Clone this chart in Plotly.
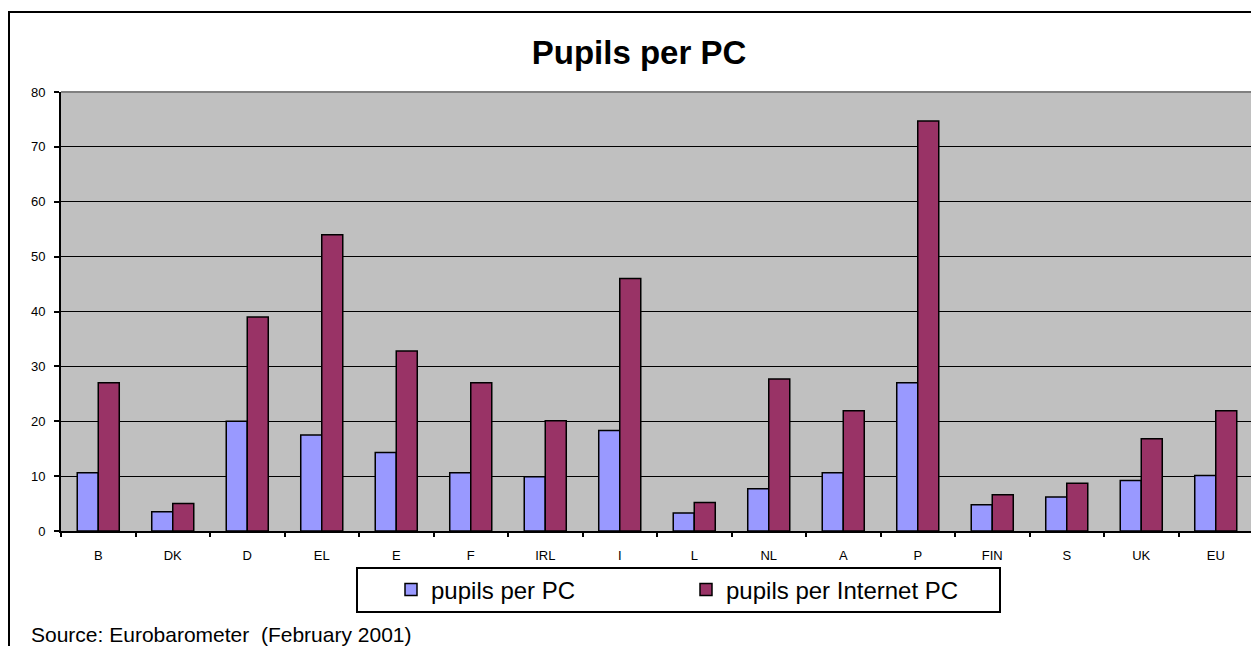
import plotly.graph_objects as go

categories = ["B", "DK", "D", "EL", "E", "F", "IRL", "I", "L", "NL", "A", "P", "FIN", "S", "UK", "EU"]
pupils_per_pc = [10.6, 3.5, 20.0, 17.5, 14.3, 10.6, 9.9, 18.3, 3.3, 7.7, 10.6, 27.0, 4.8, 6.2, 9.2, 10.1]
pupils_per_internet_pc = [27.0, 5.0, 39.0, 54.0, 32.8, 27.0, 20.1, 46.0, 5.2, 27.7, 21.9, 74.7, 6.6, 8.7, 16.8, 21.9]
y_ticks = [0, 10, 20, 30, 40, 50, 60, 70, 80]

# the page adds an 8px body margin; lay out in screen pixels and shift
OFF = 8
SW, SH = 1259, 646
W, H = SW - OFF, SH - OFF
PL, PT, PR, PB = 61, 92, 1253, 531          # plot area in screen px
L, T = PL - OFF, PT - OFF
R, B = W - (PR - OFF), H - (PB - OFF)
pw, ph = PR - PL, PB - PT


def px_x(x):
    return (x - PL) / pw


def px_y(y):
    return (PB - y) / ph


font = "Liberation Sans, Arial, sans-serif"

fig = go.Figure()
fig.add_trace(go.Bar(
    x=categories, y=pupils_per_pc, name="pupils per PC",
    marker=dict(color="#9999FF", line=dict(color="black", width=1.5)),
))
fig.add_trace(go.Bar(
    x=categories, y=pupils_per_internet_pc, name="pupils per Internet PC",
    marker=dict(color="#993366", line=dict(color="black", width=1.5)),
))

fig.update_layout(
    width=W, height=H,
    margin=dict(l=L, r=R, t=T, b=B),
    paper_bgcolor="white",
    plot_bgcolor="#C0C0C0",
    barmode="group",
    bargap=0.436,
    bargroupgap=0,
    font=dict(family=font, color="black", size=13),
    title=dict(
        text="<b>Pupils per PC</b>",
        x=(639 - OFF) / W, xref="container", xanchor="center",
        y=1 - (52 - OFF) / H, yref="container", yanchor="middle",
        font=dict(size=33, family=font, color="black"),
    ),
    showlegend=True,
    legend=dict(
        orientation="h",
        x=px_x(391), xanchor="left",
        y=px_y(590), yanchor="middle",
        borderwidth=0,
        bgcolor="rgba(0,0,0,0)",
        font=dict(size=24, family=font, color="black"),
        entrywidth=250, entrywidthmode="pixels",
    ),
    xaxis=dict(
        type="category",
        showgrid=False,
        showline=True, linecolor="black", linewidth=2,
        ticks="outside", tickson="boundaries", ticklen=4, tickcolor="black", tickwidth=2,
        ticklabelstandoff=11,
        tickfont=dict(size=13),
        fixedrange=True,
    ),
    yaxis=dict(
        range=[0, 80],
        tickvals=y_ticks,
        showgrid=True, gridcolor="black", gridwidth=1,
        zeroline=False,
        showline=True, linecolor="black", linewidth=2,
        ticks="outside", ticklen=5, tickcolor="black", tickwidth=2,
        ticklabelstandoff=6,
        tickfont=dict(size=13),
        fixedrange=True,
    ),
    shapes=[
        # plot area top and right edge (grey)
        dict(type="line", xref="paper", yref="paper", x0=0, x1=1, y0=1, y1=1,
             line=dict(color="#808080", width=2)),
        dict(type="line", xref="paper", yref="paper", x0=1, x1=1, y0=0, y1=1,
             line=dict(color="#808080", width=2)),
        # legend frame
        dict(type="rect", xref="paper", yref="paper",
             x0=px_x(357), x1=px_x(1000), y0=px_y(568), y1=px_y(612),
             line=dict(color="black", width=2), fillcolor="white", layer="below"),
        # outer chart border
        dict(type="rect", xref="paper", yref="paper",
             x0=px_x(9), x1=px_x(1262), y0=px_y(12), y1=px_y(660),
             line=dict(color="black", width=2), fillcolor="rgba(0,0,0,0)"),
    ],
    annotations=[
        dict(text="Source: Eurobarometer\u00a0 (February 2001)",
             xref="paper", yref="paper", x=px_x(29), y=px_y(634),
             xanchor="left", yanchor="middle", showarrow=False,
             font=dict(size=21, family=font, color="black")),
    ],
)

fig.write_html("out.html")
